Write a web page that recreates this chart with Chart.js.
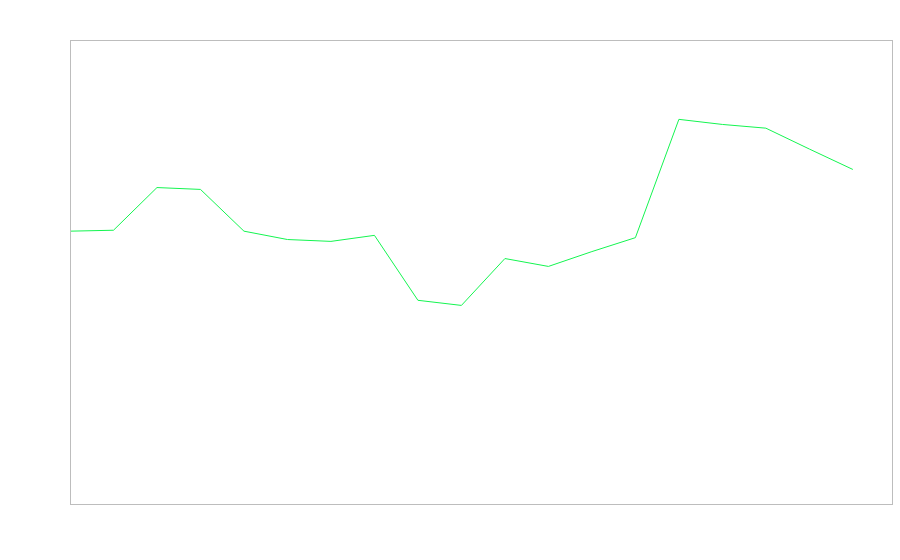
<!DOCTYPE html>
<html>
<head>
<meta charset="utf-8">
<script src="https://cdn.jsdelivr.net/npm/chart.js@4/dist/chart.umd.min.js"></script>
<style>
  html, body { margin: 0; padding: 0; background: #fff; }
  #wrap { width: 900px; height: 560px; }
</style>
</head>
<body>
<div id="wrap"><canvas id="lineChart" width="900" height="560"></canvas></div>
<script>
// values (y scale 0..100, no ticks shown)
const steps = [0, 1, 2, 3, 4, 5, 6, 7, 8, 9, 10, 11, 12, 13, 14, 15, 16, 17, 18];
const values = [58.8, 59.0, 68.2, 67.8, 58.8, 57.0, 56.6, 57.9, 43.9, 42.8,
  52.9, 51.2, 54.4, 57.4, 82.9, 81.8, 81.0, 76.5, 72.1];

const xMax = 18.9;

// draws the thin grey frame round the plot area
const frame = {
  id: "frame",
  afterDraw(chart) {
    const { ctx, chartArea: a } = chart;
    ctx.save();
    ctx.strokeStyle = "#bdbdbd";
    ctx.lineWidth = 1;
    ctx.strokeRect(Math.round(a.left) + 0.5, Math.round(a.top) + 0.5,
      Math.round(a.right - a.left), Math.round(a.bottom - a.top));
    ctx.restore();
  },
};

const ctx = document.getElementById("lineChart").getContext("2d");
new Chart(ctx, {
  type: "line",
  data: {
    datasets: [
      {
        data: steps.map((s, i) => ({ x: s, y: values[i] })),
        borderColor: "rgb(20, 245, 80)",
        borderWidth: 1,
        pointRadius: 0,
        fill: false,
        tension: 0,
      },
    ],
  },
  options: {
    responsive: false,
    animation: false,
    layout: { padding: { left: 70, top: 40, right: 8, bottom: 56 } },
    plugins: { legend: { display: false }, tooltip: { enabled: false } },
    scales: {
      x: { type: "linear", min: 0, max: xMax, display: false },
      y: { min: 0, max: 100, display: false },
    },
  },
  plugins: [frame],
});
</script>
</body>
</html>
